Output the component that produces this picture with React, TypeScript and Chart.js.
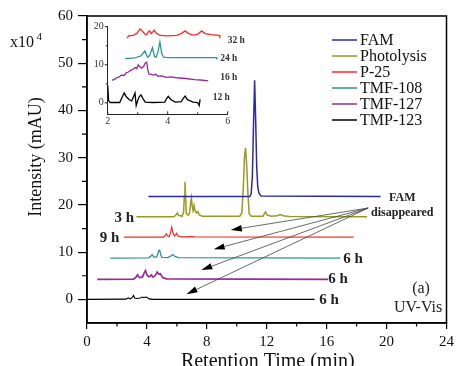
import React, { useEffect, useRef } from 'react';
import { Chart, registerables } from 'chart.js';

Chart.register(...registerables);

type P = [number, number];

// ---------- main chromatograms (x: min, y: x10^4 mAU, offsets included) ----------
const seriesNames = ['FAM', 'Photolysis', 'P-25', 'TMF-108', 'TMF-127', 'TMP-123'];

const famPoints: P[] = [
  [4.1, 21.8], [10.88, 21.8], [10.96, 22.4], [11.04, 26], [11.11, 36], [11.19, 46.4],
  [11.26, 38], [11.33, 28], [11.4, 23.8], [11.48, 22.5], [11.62, 21.9], [19.6, 21.8],
];
const photolysisPoints: P[] = [
  [3.3, 17.5], [5.8, 17.5], [5.95, 17.9], [6.03, 18.3], [6.12, 17.8], [6.35, 17.6], [6.45, 18.5],
  [6.5, 22], [6.54, 24.9], [6.58, 22], [6.63, 18.2], [6.75, 17.8], [6.85, 18.3], [6.92, 20.5],
  [6.97, 21.5], [7.02, 19.8], [7.08, 18.8], [7.15, 19.9], [7.22, 18.7], [7.32, 18.3], [7.4, 18.6],
  [7.5, 17.9], [7.7, 17.6], [10.2, 17.6], [10.34, 18.3], [10.44, 24], [10.51, 30], [10.58, 32.1],
  [10.65, 29], [10.72, 24], [10.82, 18.2], [10.97, 17.6], [11.75, 17.6], [11.85, 18.2], [11.92, 18.5],
  [12.02, 17.9], [12.3, 17.6], [12.7, 17.7], [12.9, 17.95], [13.1, 17.7], [13.5, 17.55], [18.7, 17.5],
];
const p25Points: P[] = [
  [2.45, 13.2], [5.1, 13.2], [5.2, 13.4], [5.29, 13.9], [5.38, 13.4], [5.5, 13.3], [5.58, 14.2],
  [5.66, 15.3], [5.74, 14.1], [5.84, 13.4], [5.92, 13.7], [5.99, 14.0], [6.07, 13.4], [6.3, 13.25],
  [7.0, 13.3], [7.2, 13.25], [17.8, 13.2],
];
const tmf108Points: P[] = [
  [1.55, 8.75], [4.1, 8.8], [4.25, 9.1], [4.35, 9.5], [4.45, 9.0], [4.6, 8.9], [4.7, 9.3],
  [4.78, 10.3], [4.85, 10.4], [4.92, 9.5], [5.0, 8.9], [5.4, 8.85], [5.6, 9.2], [5.73, 9.5],
  [5.86, 9.1], [6.1, 8.85], [16.9, 8.75],
];
const tmf127Points: P[] = [
  [0.68, 4.24], [3.1, 4.3], [3.25, 4.6], [3.37, 5.2], [3.5, 4.6], [3.7, 4.7], [3.82, 5.6],
  [3.91, 6.1], [4.0, 5.2], [4.12, 4.8], [4.22, 4.9], [4.3, 5.2], [4.4, 4.7], [4.55, 5.0],
  [4.68, 5.8], [4.8, 5.3], [4.9, 5.4], [5.05, 4.6], [5.3, 4.35], [16.1, 4.24],
];
const tmp123Points: P[] = [
  [0, 0], [2.6, 0.05], [2.75, 0.3], [2.9, 0.1], [3.02, 0.4], [3.1, 0.85], [3.18, 0.3],
  [3.35, 0.2], [3.55, 0.3], [3.7, 0.5], [3.8, 0.35], [3.9, 0.5], [4.0, 0.45], [4.15, 0.1],
  [4.4, 0], [15.2, 0],
];
const mainSeriesPoints: P[][] = [famPoints, photolysisPoints, p25Points, tmf108Points, tmf127Points, tmp123Points];

// ---------- inset (2-6 min, 12 h .. 32 h) ----------
const insetNames = ['32 h', '24 h', '16 h', '12 h'];
const inset32h: P[] = [
  [2.65, 17.0], [2.7, 17.6], [2.85, 17.7], [2.98, 18.3], [3.08, 19.4], [3.18, 18.6], [3.25, 18.0],
  [3.3, 17.9], [3.35, 18.6], [3.4, 18.9], [3.45, 18.2], [3.5, 18.6], [3.55, 19.1], [3.62, 18.3],
  [3.75, 17.7], [4.0, 17.6], [4.3, 17.7], [4.45, 18.2], [4.58, 18.9], [4.7, 18.2], [4.85, 17.8],
  [5.0, 18.0], [5.13, 18.9], [5.25, 18.2], [5.45, 17.9], [5.6, 17.8], [5.73, 17.7], [5.74, 17.0],
];
const inset24h: P[] = [
  [2.58, 11.6], [2.9, 11.8], [3.1, 12.3], [3.24, 13.6], [3.33, 12.0], [3.4, 12.4], [3.49, 14.5],
  [3.56, 12.2], [3.62, 12.0], [3.68, 13.5], [3.74, 16.0], [3.8, 13.0], [3.86, 12.0], [4.0, 11.9],
  [5.0, 11.9], [5.63, 11.9], [5.64, 11.4],
];
const inset16h: P[] = [
  [2.15, 5.9], [2.25, 6.3], [2.3, 6.6], [2.38, 6.8], [2.45, 7.3], [2.55, 7.2], [2.62, 7.9],
  [2.69, 8.1], [2.78, 8.6], [2.85, 8.9], [2.92, 9.3], [2.97, 9.0], [3.02, 10.0], [3.08, 9.4],
  [3.13, 9.1], [3.2, 9.6], [3.25, 10.5], [3.3, 10.7], [3.33, 9.0], [3.37, 7.6], [3.45, 7.5],
  [3.52, 7.3], [3.6, 7.5], [3.68, 7.0], [3.8, 7.1], [3.95, 6.7], [4.1, 6.8], [4.3, 6.6],
  [4.6, 6.4], [4.9, 6.1], [5.1, 6.0], [5.35, 5.8],
];
const inset12h: P[] = [
  [2.0, 4.6], [2.03, 0.6], [2.08, 0.1], [2.4, 0.1], [2.48, 1.5], [2.55, 2.6], [2.62, 1.6],
  [2.72, 0.8], [2.8, 0.5], [2.87, 1.8], [2.91, 2.6], [2.95, -0.7], [3.0, 0.6], [3.05, 1.6],
  [3.11, 2.1], [3.17, 1.2], [3.25, 0.2], [3.5, 0.1], [3.9, 0.2], [3.97, 1.2], [4.02, 1.7],
  [4.1, 0.9], [4.25, 0.2], [4.45, 0.3], [4.52, 1.2], [4.58, 1.8], [4.65, 0.9], [4.75, 0.5],
  [4.85, 0.2], [5.0, 0.1], [5.05, -0.7], [5.08, 0.9],
];
const insetSeriesPoints: P[][] = [inset32h, inset24h, inset16h, inset12h];

// ---------- ticks ----------
const xTicks = [0, 4, 8, 12, 16, 20, 24];
const xMinorTicks = [2, 6, 10, 14, 18, 22];
const yTicks = [0, 10, 20, 30, 40, 50, 60];
const yMinorTicks = [5, 15, 25, 35, 45, 55];
const insetXTicks = [2, 4, 6];
const insetXMinorTicks = [3, 5];
const insetYTicks = [0, 10, 20];
const insetYMinorTicks = [5, 15];

// ---------- annotations (data coordinates) ----------
const mainLabels: { text: string; x: number; y: number; align: 'left' | 'right' }[] = [
  { text: '3 h', x: 3.15, y: 17.4, align: 'right' },
  { text: '9 h', x: 2.16, y: 13.2, align: 'right' },
  { text: '6 h', x: 17.1, y: 8.8, align: 'left' },
  { text: '6 h', x: 16.1, y: 4.4, align: 'left' },
  { text: '6 h', x: 15.5, y: 0.0, align: 'left' },
];
const insetLabelPos: P[] = [[6.0, 16.3], [5.75, 11.7], [5.75, 6.7], [5.5, 1.5]];
const arrowOrigin: P = [18.77, 19.35];
const arrowTargets: P[] = [[9.6, 14.7], [8.46, 10.6], [7.63, 6.2], [6.64, 1.1]];
const noteFAM: P = [21.05, 21.4];
const noteDisappeared: P = [21.05, 18.4];
const noteA: P = [22.3, 2.3];
const noteUV: P = [22.1, -1.7];

// ---------- styles ----------
const seriesColors = ['#2a2aa8', '#9a9a1e', '#ff2a2a', '#2a9595', '#982a98', '#000000'];
const seriesWidths = [1.5, 1.5, 1.2, 1.3, 1.7, 1.1];
const insetColors = ['#ff2a2a', '#2a9595', '#982a98', '#000000'];
const SERIF = '"Liberation Serif", "DejaVu Serif", serif';

const toXY = (pts: P[]) => pts.map(([x, y]) => ({ x, y }));

function drawArrow(ctx: CanvasRenderingContext2D, x1: number, y1: number, x2: number, y2: number) {
  const ang = Math.atan2(y2 - y1, x2 - x1);
  const len = 11;
  const half = 3.2;
  const bx = x2 - len * Math.cos(ang);
  const by = y2 - len * Math.sin(ang);
  ctx.save();
  ctx.strokeStyle = '#444';
  ctx.lineWidth = 0.8;
  ctx.beginPath();
  ctx.moveTo(x1, y1);
  ctx.lineTo(bx, by);
  ctx.stroke();
  ctx.fillStyle = '#000';
  ctx.beginPath();
  ctx.moveTo(x2, y2);
  ctx.lineTo(bx + half * Math.sin(ang), by - half * Math.cos(ang));
  ctx.lineTo(bx - half * Math.sin(ang), by + half * Math.cos(ang));
  ctx.closePath();
  ctx.fill();
  ctx.restore();
}

const mainDecor = {
  id: 'mainDecor',
  afterDatasetsDraw(chart: any) {
    const { ctx, chartArea: ca, scales } = chart;
    const xs = scales.x;
    const ys = scales.y;
    ctx.save();
    // frame
    ctx.strokeStyle = '#000';
    ctx.lineWidth = 1.5;
    ctx.strokeRect(ca.left, ca.top, ca.right - ca.left, ca.bottom - ca.top);
    // minor ticks
    ctx.lineWidth = 1.2;
    ctx.beginPath();
    xMinorTicks.forEach((v) => {
      const px = xs.getPixelForValue(v);
      ctx.moveTo(px, ca.bottom);
      ctx.lineTo(px, ca.bottom + 3.5);
    });
    yMinorTicks.forEach((v) => {
      const py = ys.getPixelForValue(v);
      ctx.moveTo(ca.left, py);
      ctx.lineTo(ca.left - 5, py);
    });
    ctx.stroke();

    // legend
    const lx = ca.left + 245;
    const ly = ca.top + 24;
    ctx.font = `16px ${SERIF}`;
    ctx.textBaseline = 'middle';
    ctx.textAlign = 'left';
    chart.data.datasets.forEach((ds: any, i: number) => {
      const y = ly + i * 16;
      ctx.strokeStyle = ds.borderColor;
      ctx.lineWidth = 1.5;
      ctx.beginPath();
      ctx.moveTo(lx, y);
      ctx.lineTo(lx + 25, y);
      ctx.stroke();
      ctx.fillStyle = '#111';
      ctx.fillText(ds.label, lx + 28, y + 1);
    });

    // series labels
    ctx.font = `bold 15px ${SERIF}`;
    ctx.fillStyle = '#222';
    mainLabels.forEach((l) => {
      ctx.textAlign = l.align;
      ctx.fillText(l.text, xs.getPixelForValue(l.x), ys.getPixelForValue(l.y) + 1);
    });

    // arrows
    const ox = xs.getPixelForValue(arrowOrigin[0]);
    const oy = ys.getPixelForValue(arrowOrigin[1]);
    arrowTargets.forEach(([tx, ty]) => drawArrow(ctx, ox, oy, xs.getPixelForValue(tx), ys.getPixelForValue(ty)));

    // notes
    ctx.textAlign = 'center';
    ctx.fillStyle = '#222';
    ctx.font = `bold 12px ${SERIF}`;
    ctx.fillText('FAM', xs.getPixelForValue(noteFAM[0]), ys.getPixelForValue(noteFAM[1]));
    ctx.fillText('disappeared', xs.getPixelForValue(noteDisappeared[0]), ys.getPixelForValue(noteDisappeared[1]));
    ctx.font = `16px ${SERIF}`;
    ctx.fillText('(a)', xs.getPixelForValue(noteA[0]), ys.getPixelForValue(noteA[1]));
    ctx.fillText('UV-Vis', xs.getPixelForValue(noteUV[0]), ys.getPixelForValue(noteUV[1]));

    // axis titles
    ctx.fillStyle = '#111';
    ctx.font = `20px ${SERIF}`;
    ctx.textBaseline = 'alphabetic';
    ctx.fillText('Retention Time (min)', (ca.left + ca.right) / 2 + 1, 367);
    ctx.save();
    ctx.translate(41, 157);
    ctx.rotate(-Math.PI / 2);
    ctx.font = `18px ${SERIF}`;
    ctx.fillText('Intensity (mAU)', 0, 0);
    ctx.restore();
    // multiplier
    ctx.textAlign = 'left';
    ctx.font = `16px ${SERIF}`;
    ctx.fillText('x10', 10, 47);
    ctx.font = `11px ${SERIF}`;
    ctx.fillText('4', 36.5, 40);
    ctx.restore();
  },
};

const insetDecor = {
  id: 'insetDecor',
  afterDatasetsDraw(chart: any) {
    const { ctx, chartArea: ca, scales } = chart;
    const xs = scales.x;
    const ys = scales.y;
    ctx.save();
    ctx.strokeStyle = '#222';
    ctx.lineWidth = 1;
    ctx.beginPath();
    insetXTicks.forEach((v) => {
      const px = xs.getPixelForValue(v);
      ctx.moveTo(px, ca.bottom);
      ctx.lineTo(px, ca.bottom - 3);
    });
    insetXMinorTicks.forEach((v) => {
      const px = xs.getPixelForValue(v);
      ctx.moveTo(px, ca.bottom);
      ctx.lineTo(px, ca.bottom - 2);
    });
    insetYTicks.forEach((v) => {
      const py = ys.getPixelForValue(v);
      ctx.moveTo(ca.left, py);
      ctx.lineTo(ca.left - 3, py);
    });
    insetYMinorTicks.forEach((v) => {
      const py = ys.getPixelForValue(v);
      ctx.moveTo(ca.left, py);
      ctx.lineTo(ca.left - 2, py);
    });
    ctx.stroke();
    ctx.font = `bold 9.5px ${SERIF}`;
    ctx.fillStyle = '#333';
    ctx.textAlign = 'left';
    ctx.textBaseline = 'middle';
    chart.data.datasets.forEach((ds: any, i: number) => {
      const [lx, ly] = insetLabelPos[i];
      ctx.fillText(ds.label, xs.getPixelForValue(lx), ys.getPixelForValue(ly));
    });
    ctx.restore();
  },
};

export default function App() {
  const mainRef = useRef<HTMLCanvasElement>(null);
  const insetRef = useRef<HTMLCanvasElement>(null);

  useEffect(() => {
    const tickFont = { family: SERIF, size: 15 };
    const main = new Chart(mainRef.current as HTMLCanvasElement, {
      type: 'scatter',
      data: {
        datasets: mainSeriesPoints.map((pts, i) => ({
          label: seriesNames[i],
          data: toXY(pts),
          showLine: true,
          borderColor: seriesColors[i],
          backgroundColor: seriesColors[i],
          borderWidth: seriesWidths[i],
          pointRadius: 0,
          tension: 0,
          fill: false,
        })),
      },
      options: {
        responsive: false,
        animation: false,
        devicePixelRatio: 1,
        layout: { padding: { top: 16, right: 5, left: 0, bottom: 0 } },
        plugins: { legend: { display: false }, tooltip: { enabled: false } },
        scales: {
          x: {
            type: 'linear',
            min: 0,
            max: 24,
            afterBuildTicks: (s: any) => { s.ticks = xTicks.map((v) => ({ value: v })); },
            afterFit: (s: any) => { s.height = 43; },
            grid: { drawOnChartArea: false, drawTicks: true, tickLength: 6, color: '#000', lineWidth: 1.2 },
            border: { display: true, color: '#000', width: 1.5 },
            ticks: { padding: 4, color: '#111', font: tickFont, maxRotation: 0, autoSkip: false },
          },
          y: {
            type: 'linear',
            min: -5,
            max: 60,
            afterBuildTicks: (s: any) => { s.ticks = yTicks.map((v) => ({ value: v })); },
            afterFit: (s: any) => { s.width = 87; },
            grid: { drawOnChartArea: false, drawTicks: true, tickLength: 9, color: '#000', lineWidth: 1.2 },
            border: { display: true, color: '#000', width: 1.5 },
            ticks: { padding: 5, color: '#111', font: tickFont, autoSkip: false },
          },
        },
      },
      plugins: [mainDecor],
    } as any);

    const inset = new Chart(insetRef.current as HTMLCanvasElement, {
      type: 'scatter',
      data: {
        datasets: insetSeriesPoints.map((pts, i) => ({
          label: insetNames[i],
          data: toXY(pts),
          showLine: true,
          borderColor: insetColors[i],
          backgroundColor: insetColors[i],
          borderWidth: 1.3,
          pointRadius: 0,
          tension: 0,
          fill: false,
        })),
      },
      options: {
        responsive: false,
        animation: false,
        devicePixelRatio: 1,
        layout: { padding: { top: 16.7, right: 32.3, left: 0, bottom: 0 } },
        plugins: { legend: { display: false }, tooltip: { enabled: false } },
        scales: {
          x: {
            type: 'linear',
            min: 2,
            max: 6,
            afterBuildTicks: (s: any) => { s.ticks = insetXTicks.map((v) => ({ value: v })); },
            afterFit: (s: any) => { s.height = 15.7; },
            grid: { display: false, drawTicks: false },
            border: { display: true, color: '#222', width: 1 },
            ticks: { padding: 1, color: '#333', font: { family: SERIF, size: 10 }, maxRotation: 0, autoSkip: false },
          },
          y: {
            type: 'linear',
            min: -3,
            max: 20,
            afterBuildTicks: (s: any) => { s.ticks = insetYTicks.map((v) => ({ value: v })); },
            afterFit: (s: any) => { s.width = 27.7; },
            grid: { display: false, drawTicks: false },
            border: { display: true, color: '#222', width: 1 },
            ticks: { padding: 4, color: '#333', font: { family: SERIF, size: 10 }, autoSkip: false },
          },
        },
      },
      plugins: [insetDecor],
    } as any);

    return () => {
      main.destroy();
      inset.destroy();
    };
  }, []);

  return (
    <div style={{ position: 'absolute', left: 0, top: 0, width: 458, height: 366, background: '#fff', overflow: 'hidden' }}>
      <canvas ref={mainRef} width={458} height={366} style={{ position: 'absolute', left: 0, top: 0 }} />
      <canvas ref={insetRef} width={180} height={120} style={{ position: 'absolute', left: 80, top: 10 }} />
    </div>
  );
}
